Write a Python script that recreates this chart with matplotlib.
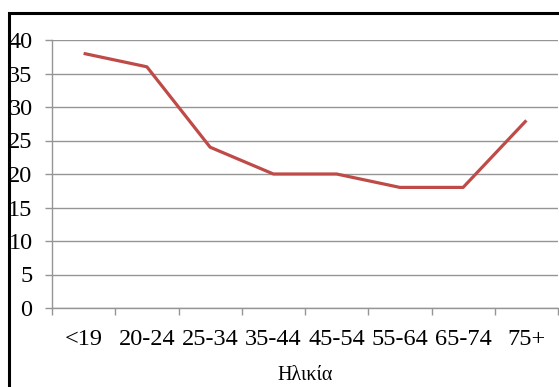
import numpy as np
import matplotlib.pyplot as plt
from matplotlib.patches import Rectangle

# age groups and their values
ages = ['<19', '20-24', '25-34', '35-44', '45-54', '55-64', '65-74', '75+']
values = [38, 36, 24, 20, 20, 18, 18, 28]
yticks = [0, 5, 10, 15, 20, 25, 30, 35, 40]

plt.rcParams['font.family'] = ['Liberation Serif', 'DejaVu Serif']

W, H = 559, 387
fig = plt.figure(figsize=(W / 100, H / 100), dpi=100)

# plot area in pixel terms
left, right, top, bottom = 52, 558, 40, 308
ax = fig.add_axes([left / W, 1 - bottom / H, (right - left) / W, (bottom - top) / H])

grid_c = '#959595'
fs = 17.5
x = np.arange(len(ages)) + 0.5
ax.plot(x, values, color='#BE4B48', lw=2.3, solid_capstyle='butt', zorder=3)

ax.set_xlim(0, len(ages))
ax.set_ylim(0, 40)
ax.set_yticks(yticks)
ax.set_yticklabels([str(v) for v in yticks], fontsize=fs)
ax.yaxis.grid(True, color=grid_c, lw=1.0)
ax.set_axisbelow(True)

# category boundaries carry the tick marks, labels sit at centres
ax.set_xticks(np.arange(len(ages) + 1))
ax.set_xticklabels([])
ax.set_xticks(x, minor=True)
ax.set_xticklabels(ages, minor=True, fontsize=fs)
ax.tick_params(axis='x', which='minor', length=0, pad=15)
ax.tick_params(axis='x', which='major', length=5, color=grid_c, width=1)
ax.tick_params(axis='y', length=5, color=grid_c, width=1, pad=9)

for s in ['top', 'right']:
    ax.spines[s].set_visible(False)
for s in ['left', 'bottom']:
    ax.spines[s].set_color(grid_c)
    ax.spines[s].set_linewidth(1.0)

ax.set_xlabel('Ηλικία', fontsize=fs - 3, labelpad=12)

# outer frame around the whole chart
fig.patches.append(Rectangle((9 / W, -0.1), 1.2, 1 - 13 / H + 0.1,
                             transform=fig.transFigure, fill=False,
                             edgecolor='black', lw=2.2, zorder=10))

fig.savefig('out.png', dpi=100)
